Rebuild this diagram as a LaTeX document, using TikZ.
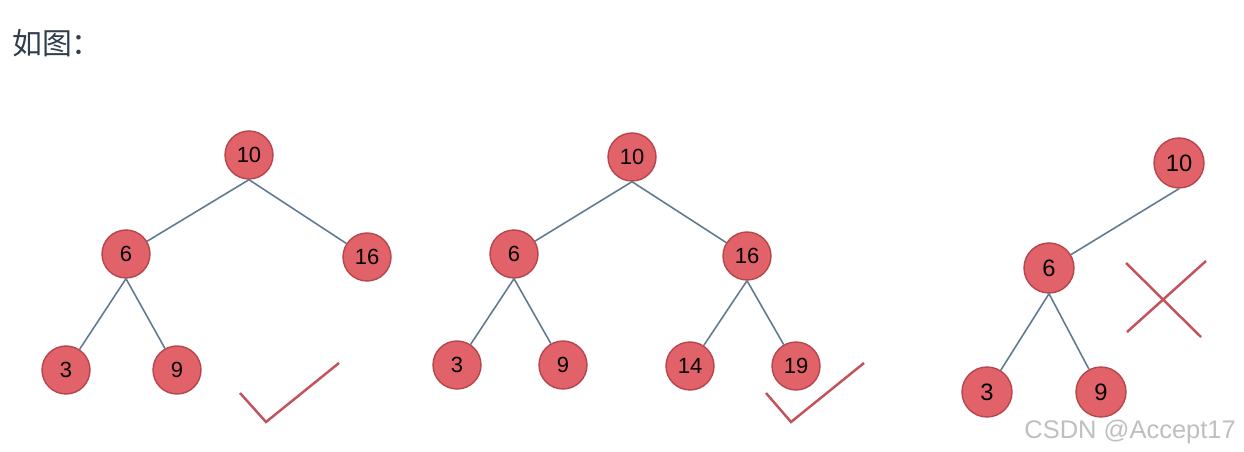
\documentclass[tikz,border=0pt]{standalone}
\usepackage{fontspec}
\setmainfont{Liberation Sans}
\newfontfamily\cjk{Noto Sans CJK SC}
\definecolor{nodered}{HTML}{E2626A}
\definecolor{noderim}{HTML}{B4464C}
\definecolor{edgeblue}{HTML}{607A92}
\definecolor{markred}{HTML}{C4525A}
\definecolor{titlegray}{HTML}{2F3E4C}
\tikzset{knot/.style={circle,draw=noderim,fill=nodered,thick,minimum size=0.96cm,
  inner sep=0pt,font=\fontsize{12.5}{14}\selectfont},
  edge/.style={draw=edgeblue,line width=0.9pt},
  stroke/.style={draw=markred,line width=1.4pt}}

\begin{document}
\begin{tikzpicture}[x=0.02cm,y=-0.02cm]
\useasboundingbox (0,0) rectangle (1244,452);
\node[anchor=west,text=titlegray,font=\cjk\fontsize{17}{20}\selectfont] (title) at (6,43) {如图：};
% first tree
\node[knot] (a10) at (249,155) {10};
\node[knot] (a6) at (126,254) {6};
\node[knot] (a16) at (367,257) {16};
\node[knot] (a3) at (66,370) {3};
\node[knot] (a9) at (177,370) {9};
\draw[edge] (a10.south)--(a6);
\draw[edge] (a10.south)--(a16);
\draw[edge] (a6.south)--(a3);
\draw[edge] (a6.south)--(a9);
\coordinate (ca) at (240,393);
\coordinate (cb) at (266,422);
\coordinate (cc) at (339,363);
\draw[stroke] (ca)--(cb)--(cc);
% second tree
\node[knot] (b10) at (632,157) {10};
\node[knot] (b6) at (514,254) {6};
\node[knot] (b16) at (747,256) {16};
\node[knot] (b3) at (457,365) {3};
\node[knot] (b9) at (563,365) {9};
\node[knot] (b14) at (690,366) {14};
\node[knot] (b19) at (796,366) {19};
\draw[edge] (b10.south)--(b6);
\draw[edge] (b10.south)--(b16);
\draw[edge] (b6.south)--(b3);
\draw[edge] (b6.south)--(b9);
\draw[edge] (b16.south)--(b14);
\draw[edge] (b16.south)--(b19);
\coordinate (da) at (766,393);
\coordinate (db) at (791,422);
\coordinate (dc) at (864,363);
\draw[stroke] (da)--(db)--(dc);
% third tree
\node[knot,minimum size=1cm,font=\fontsize{13.5}{15}\selectfont] (c10) at (1179,163) {10};
\node[knot,minimum size=1cm,font=\fontsize{13.5}{15}\selectfont] (c6) at (1049,268) {6};
\node[knot,minimum size=1cm,font=\fontsize{13.5}{15}\selectfont] (c3) at (987,392) {3};
\node[knot,minimum size=1cm,font=\fontsize{13.5}{15}\selectfont] (c9) at (1101,392) {9};
\draw[edge] (c10.south)--(c6);
\draw[edge] (c6.south)--(c3);
\draw[edge] (c6.south)--(c9);
\coordinate (xa) at (1126,263);
\coordinate (xb) at (1201,337);
\coordinate (xc) at (1206,261);
\coordinate (xd) at (1127,332);
\draw[stroke] (xa)--(xb);
\draw[stroke] (xc)--(xd);
\node[anchor=east,text=black!25,font=\fontsize{14.5}{16}\selectfont] (sign) at (1242,432) {CSDN @Accept17};
\end{tikzpicture}
\end{document}
